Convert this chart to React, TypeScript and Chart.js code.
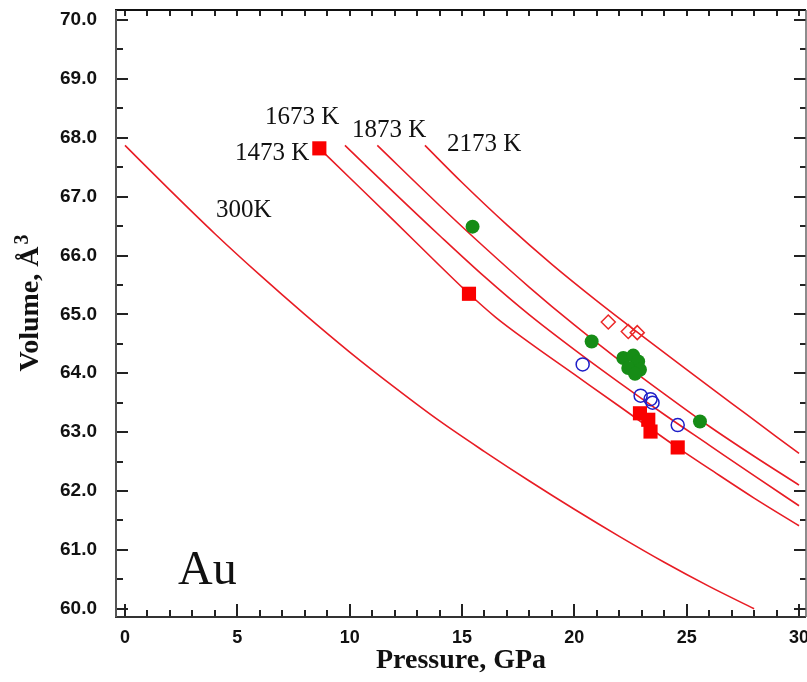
import React, { useEffect, useRef } from 'react';
import { Chart, registerables } from 'chart.js';

Chart.register(...registerables);

// ---- Data ----
const xTickValues = [0, 5, 10, 15, 20, 25, 30];
const yTickValues = [60, 61, 62, 63, 64, 65, 66, 67, 68, 69, 70];

const p300 = [0, 2, 4, 6, 8, 10, 12, 14, 16, 18, 20, 22, 24, 26, 28];
const v300 = [67.87, 67.11, 66.37, 65.67, 65.0, 64.36, 63.76, 63.19, 62.67, 62.17, 61.69, 61.23, 60.79, 60.38, 60.0];

const p1473 = [8.65, 10, 12, 14, 15.31, 16.5, 18, 20, 22, 24.58, 26, 28, 30];
const v1473 = [67.82, 67.32, 66.58, 65.83, 65.35, 64.95, 64.52, 63.98, 63.44, 62.74, 62.38, 61.88, 61.41];

const p1673 = [9.79, 12, 14, 16, 18, 20, 22, 24, 26, 28, 30];
const v1673 = [67.87, 67.06, 66.34, 65.64, 64.99, 64.4, 63.84, 63.3, 62.78, 62.26, 61.75];

const p1873 = [11.23, 14, 16, 18, 20, 22, 24, 26, 28, 30];
const v1873 = [67.87, 66.85, 66.14, 65.46, 64.82, 64.22, 63.65, 63.1, 62.59, 62.1];

const p2173 = [13.35, 15, 17, 19, 21, 23, 25, 27, 29, 30];
const v2173 = [67.87, 67.24, 66.52, 65.85, 65.23, 64.64, 64.06, 63.49, 62.92, 62.64];

const squareP = [8.65, 15.31, 22.92, 23.29, 23.39, 24.6];
const squareV = [67.82, 65.35, 63.32, 63.21, 63.01, 62.74];

const greenP = [15.47, 20.77, 22.18, 22.62, 22.84, 22.4, 22.92, 22.7, 25.59];
const greenV = [66.49, 64.54, 64.26, 64.3, 64.2, 64.09, 64.06, 63.99, 63.18];

const blueP = [20.37, 22.95, 23.39, 23.48, 24.6];
const blueV = [64.15, 63.62, 63.56, 63.5, 63.12];

const diamondP = [21.51, 22.4, 22.8];
const diamondV = [64.87, 64.71, 64.69];

const curveLabels = ['300K', '1473 K', '1673 K', '1873 K', '2173 K'];
const sampleLabel = 'Au';
const xTitle = 'Pressure, GPa';
const yTitleMain = 'Volume, Å';
const yTitleSup = '3';

// label anchors (data coordinates: pressure, volume) — left edge, vertical middle
const curveLabelAnchors = [
  [4.05, 66.76],
  [4.9, 67.74],
  [6.23, 68.34],
  [10.1, 68.13],
  [14.33, 67.88],
];
const sampleLabelAnchor = [2.36, 60.64];

const zip = (xs: number[], ys: number[]) => xs.map((x, i) => ({ x, y: ys[i] }));

const LINE_RED = 'rgb(232, 28, 36)';
const SERIF = '"Liberation Serif", "Times New Roman", serif';

const decorPlugin = {
  id: 'decor',
  afterDraw(chart: any) {
    const { ctx, chartArea: a, scales } = chart;
    const x = scales.x;
    const y = scales.y;
    const seg = (x1: number, y1: number, x2: number, y2: number) => {
      ctx.beginPath();
      ctx.moveTo(x1, y1);
      ctx.lineTo(x2, y2);
      ctx.stroke();
    };
    ctx.save();
    // ticks
    ctx.strokeStyle = '#222';
    ctx.lineWidth = 2;
    for (let p = 0; p <= 30; p++) {
      const px = Math.round(x.getPixelForValue(p));
      const major = p % 5 === 0;
      seg(px, a.bottom, px, a.bottom - (major ? 13 : 7));
      seg(px, a.top, px, a.top + 6);
    }
    for (let i = 0; i <= 20; i++) {
      const v = 60 + i * 0.5;
      const py = Math.round(y.getPixelForValue(v));
      const major = i % 2 === 0;
      seg(a.left, py, a.left + (major ? 12 : 7), py);
      seg(a.right, py, a.right - (major ? 12 : 6), py);
    }
    // frame
    ctx.lineWidth = 2;
    ctx.strokeStyle = '#111';
    seg(a.left - 1, a.top, a.right, a.top);
    ctx.strokeStyle = '#333';
    seg(a.left - 1, a.bottom, a.right, a.bottom);
    ctx.strokeStyle = '#555';
    seg(a.left, a.top, a.left, a.bottom);
    ctx.lineWidth = 1.5;
    ctx.strokeStyle = '#666';
    seg(a.right, a.top, a.right, a.bottom);

    // curve labels
    ctx.fillStyle = '#111';
    ctx.textBaseline = 'middle';
    ctx.textAlign = 'left';
    ctx.font = '25px ' + SERIF;
    curveLabels.forEach((t, i) => {
      const [lp, lv] = curveLabelAnchors[i];
      ctx.fillText(t, x.getPixelForValue(lp), y.getPixelForValue(lv));
    });
    ctx.font = '48px ' + SERIF;
    ctx.fillText(sampleLabel, x.getPixelForValue(sampleLabelAnchor[0]), y.getPixelForValue(sampleLabelAnchor[1]));

    // y axis title (rotated) with superscript
    ctx.save();
    const mainFont = 'bold 28px ' + SERIF;
    const supFont = 'bold 20px ' + SERIF;
    ctx.font = mainFont;
    const w = ctx.measureText(yTitleMain).width;
    ctx.font = supFont;
    const ws = ctx.measureText(yTitleSup).width;
    const total = w + 2 + ws;
    const cy = 303;
    ctx.translate(29, cy + total / 2);
    ctx.rotate(-Math.PI / 2);
    ctx.textBaseline = 'alphabetic';
    ctx.font = mainFont;
    ctx.fillText(yTitleMain, 0, 9);
    ctx.font = supFont;
    ctx.fillText(yTitleSup, w + 2, -1);
    ctx.restore();

    ctx.restore();
  },
};

export default function App() {
  const ref = useRef<HTMLCanvasElement | null>(null);
  useEffect(() => {
    if (!ref.current) return;
    const lineDs = (label: string, ps: number[], vs: number[]) => ({
      type: 'line' as const,
      label,
      data: zip(ps, vs),
      borderColor: LINE_RED,
      borderWidth: 1.6,
      pointRadius: 0,
      fill: false,
      cubicInterpolationMode: 'monotone' as const,
      order: 2,
    });
    const chart = new Chart(ref.current, {
      type: 'scatter',
      data: {
        datasets: [
          lineDs('300K', p300, v300),
          lineDs('1473 K', p1473, v1473),
          lineDs('1673 K', p1673, v1673),
          lineDs('1873 K', p1873, v1873),
          lineDs('2173 K', p2173, v2173),
          {
            label: 'diamonds',
            data: zip(diamondP, diamondV),
            pointStyle: 'rectRot',
            pointRadius: 7,
            backgroundColor: 'rgba(255,255,255,0)',
            borderColor: 'rgb(235, 40, 40)',
            borderWidth: 1.5,
            order: 1,
          },
          {
            label: 'green',
            data: zip(greenP, greenV),
            pointStyle: 'circle',
            pointRadius: 7,
            backgroundColor: 'rgb(22, 140, 22)',
            borderColor: 'rgb(22, 140, 22)',
            borderWidth: 0,
            order: 1,
          },
          {
            label: 'blue',
            data: zip(blueP, blueV),
            pointStyle: 'circle',
            pointRadius: 6.5,
            backgroundColor: 'rgba(255,255,255,0)',
            borderColor: 'rgb(30, 30, 200)',
            borderWidth: 1.5,
            order: 1,
          },
          {
            label: 'squares',
            data: zip(squareP, squareV),
            pointStyle: 'rect',
            pointRadius: 10,
            backgroundColor: 'rgb(250, 0, 0)',
            borderColor: 'rgb(250, 0, 0)',
            borderWidth: 0,
            order: 0,
          },
        ],
      },
      options: {
        animation: false,
        responsive: false,
        devicePixelRatio: 1,
        layout: { autoPadding: false, padding: { top: 10, right: 1, left: 0, bottom: 0 } },
        plugins: {
          legend: { display: false },
          tooltip: { enabled: false },
        },
        scales: {
          x: {
            type: 'linear',
            min: -0.4,
            max: 30.31,
            afterBuildTicks: (s: any) => {
              s.ticks = xTickValues.map((v) => ({ value: v }));
            },
            afterFit: (s: any) => {
              s.height = 65;
              s.paddingLeft = 0;
              s.paddingRight = 0;
            },
            grid: { display: false, drawTicks: false },
            border: { display: false },
            ticks: {
              padding: 10,
              color: '#111',
              font: { family: '"Liberation Sans", Arial, sans-serif', size: 18, weight: 'bold' },
              callback: (v: any) => String(v),
            },
            title: {
              display: true,
              text: xTitle,
              color: '#111',
              font: { family: SERIF, size: 28, weight: 'bold' },
              padding: { top: 0, bottom: 4 },
            },
          },
          y: {
            type: 'linear',
            min: 59.86,
            max: 70.17,
            afterBuildTicks: (s: any) => {
              s.ticks = yTickValues.map((v) => ({ value: v }));
            },
            afterFit: (s: any) => {
              s.width = 116;
              s.paddingTop = 0;
              s.paddingBottom = 0;
            },
            grid: { display: false, drawTicks: false },
            border: { display: false },
            ticks: {
              padding: 19,
              color: '#111',
              font: { family: '"Liberation Sans", Arial, sans-serif', size: 19, weight: 'bold' },
              callback: (v: any) => Number(v).toFixed(1),
            },
            title: { display: false },
          },
        },
      },
      plugins: [decorPlugin],
    } as any);
    return () => chart.destroy();
  }, []);
  return (
    <div style={{ position: 'fixed', left: 0, top: 0, width: 807, height: 682, background: '#fff' }}>
      <canvas ref={ref} width={807} height={682} style={{ display: 'block', width: 807, height: 682 }} />
    </div>
  );
}
